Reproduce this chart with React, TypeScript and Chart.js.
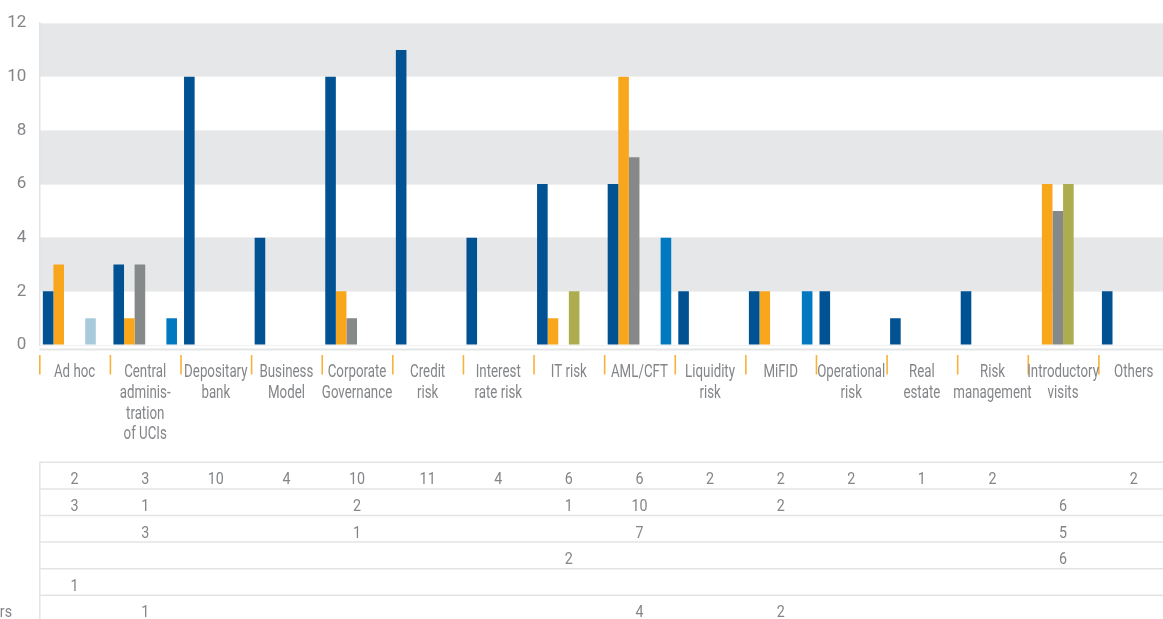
import React, { useEffect, useRef } from "react";
import { Chart, registerables } from "chart.js";

Chart.register(...registerables);

// ---- data ----
const categories: string[][] = [
  ["Ad hoc"],
  ["Central", "adminis-", "tration", "of UCIs"],
  ["Depositary", "bank"],
  ["Business", "Model"],
  ["Corporate", "Governance"],
  ["Credit", "risk"],
  ["Interest", "rate risk"],
  ["IT risk"],
  ["AML/CFT"],
  ["Liquidity", "risk"],
  ["MiFID"],
  ["Operational", "risk"],
  ["Real", "estate"],
  ["Risk", "management"],
  ["Introductory", "visits"],
  ["Others"],
];

const seriesNames = [
  "Banks",
  "Investment firms",
  "UCIs",
  "PFS",
  "Payment institutions",
  "Investment fund managers",
];

const banks = [2, 3, 10, 4, 10, 11, 4, 6, 6, 2, 2, 2, 1, 2, null, 2];
const investmentFirms = [3, 1, null, null, 2, null, null, 1, 10, null, 2, null, null, null, 6, null];
const ucis = [null, 3, null, null, 1, null, null, null, 7, null, null, null, null, null, 5, null];
const pfs = [null, null, null, null, null, null, null, 2, null, null, null, null, null, null, 6, null];
const paymentInstitutions = [1, null, null, null, null, null, null, null, null, null, null, null, null, null, null, null];
const fundManagers = [null, 1, null, null, null, null, null, null, 4, null, 2, null, null, null, null, null];

const seriesValues = [banks, investmentFirms, ucis, pfs, paymentInstitutions, fundManagers];
const seriesColors = ["#005293", "#F8A61C", "#868989", "#ADAC4E", "#A8CBDB", "#0079C1"];

const yTicks = [0, 2, 4, 6, 8, 10, 12];

// ---- layout ----
const HIDDEN_LEFT = 170;
const VIEW_W = 1163;
const VIEW_H = 619;
const CANVAS_W = HIDDEN_LEFT + VIEW_W + 17;
const FONT = '"Roboto", "DejaVu Sans Condensed", sans-serif';
const TEXT = "#838588";

function drawSqueezed(ctx: CanvasRenderingContext2D, text: string, cx: number, by: number, sx: number) {
  ctx.save();
  ctx.translate(cx, by);
  ctx.scale(sx, 1);
  ctx.fillText(text, 0, 0);
  ctx.restore();
}

const decorPlugin = {
  id: "decor",
  beforeDraw(chart: any) {
    const { ctx, chartArea, scales } = chart;
    const y = scales.y;
    ctx.save();
    ctx.fillStyle = "#ffffff";
    ctx.fillRect(0, 0, chart.width, chart.height);
    ctx.fillStyle = "#E6E7E8";
    for (let k = 0; k < yTicks.length - 1; k++) {
      if (k % 2 === 1) {
        const top = y.getPixelForValue(yTicks[k + 1]);
        const bot = y.getPixelForValue(yTicks[k]);
        ctx.fillRect(chartArea.left, top, chartArea.right - chartArea.left, bot - top);
      }
    }
    ctx.restore();
  },
  afterDraw(chart: any) {
    const { ctx, chartArea, scales } = chart;
    const x = scales.x;
    const n = categories.length;
    const cw = (chartArea.right - chartArea.left) / n;
    ctx.save();
    // axis line
    ctx.strokeStyle = "#E4E5E6";
    ctx.lineWidth = 2;
    ctx.beginPath();
    ctx.moveTo(chartArea.left, chartArea.bottom + 4.5);
    ctx.lineTo(chart.width, chartArea.bottom + 4.5);
    ctx.stroke();
    // orange category separators
    ctx.strokeStyle = "#F9B13A";
    ctx.lineWidth = 1.6;
    for (let k = 0; k <= n; k++) {
      const px = chartArea.left + k * cw + 0.5;
      ctx.beginPath();
      ctx.moveTo(px, chartArea.bottom + 10);
      ctx.lineTo(px, chartArea.bottom + 29.5);
      ctx.stroke();
    }
    // category labels
    ctx.fillStyle = TEXT;
    ctx.font = `400 17.5px ${FONT}`;
    ctx.textAlign = "center";
    ctx.textBaseline = "alphabetic";
    categories.forEach((lines, j) => {
      const cx = x.getPixelForValue(j);
      lines.forEach((line, k) => {
        drawSqueezed(ctx, line, cx, chartArea.bottom + 32 + k * 20.8, 0.76);
      });
    });

    // data table
    const tableTop = chartArea.bottom + 117.3;
    const rowH = 26.6;
    ctx.strokeStyle = "#E3E4E5";
    ctx.lineWidth = 1.5;
    for (let r = 0; r <= seriesValues.length; r++) {
      const ly = tableTop + r * rowH;
      ctx.beginPath();
      ctx.moveTo(chartArea.left, ly);
      ctx.lineTo(chart.width, ly);
      ctx.stroke();
    }
    ctx.beginPath();
    ctx.moveTo(chartArea.left + 0.5, tableTop);
    ctx.lineTo(chartArea.left + 0.5, chart.height);
    ctx.stroke();

    ctx.font = `400 17px ${FONT}`;
    ctx.textAlign = "center";
    seriesValues.forEach((vals, r) => {
      const by = tableTop + r * rowH + 22;
      vals.forEach((v, j) => {
        if (v !== null && v !== undefined) {
          drawSqueezed(ctx, String(v), x.getPixelForValue(j), by, 0.84);
        }
      });
    });
    // legend column (mostly cut off on the left)
    ctx.textAlign = "left";
    const longest = seriesNames[seriesNames.length - 1];
    const startX = HIDDEN_LEFT + 12 - ctx.measureText(longest).width * 0.84;
    seriesNames.forEach((name, r) => {
      const by = tableTop + r * rowH + 22;
      drawSqueezed(ctx, name, startX, by, 0.84);
    });
    ctx.restore();
  },
};

export default function App() {
  const ref = useRef<HTMLCanvasElement | null>(null);

  useEffect(() => {
    if (!ref.current) return;
    const chart = new Chart(ref.current, {
      type: "bar",
      data: {
        labels: categories,
        datasets: seriesNames.map((name, i) => ({
          label: name,
          data: seriesValues[i],
          backgroundColor: seriesColors[i],
          borderWidth: 0,
          categoryPercentage: 0.9,
          barPercentage: 1.0,
        })),
      },
      options: {
        responsive: false,
        devicePixelRatio: 1,
        animation: false,
        layout: { padding: { left: 0, right: 11, top: 21, bottom: 175 } },
        plugins: {
          legend: { display: false },
          tooltip: { enabled: false },
        },
        scales: {
          x: {
            grid: { display: false, drawTicks: false },
            border: { display: false },
            ticks: { display: false },
            afterFit: (scale: any) => {
              scale.height = 99;
            },
          },
          y: {
            min: 0,
            max: 12,
            grid: { color: "#F0F0F1", lineWidth: 1, drawTicks: false },
            border: { display: true, color: "#E2E3E4", width: 1.5 },
            ticks: {
              stepSize: 2,
              color: TEXT,
              font: { family: FONT, size: 17, weight: "400" },
              padding: 13,
            },
            afterFit: (scale: any) => {
              scale.width = HIDDEN_LEFT + 39.3;
            },
          },
        },
      },
      plugins: [decorPlugin],
    });
    return () => chart.destroy();
  }, []);

  return (
    <div
      style={{
        position: "fixed",
        left: 0,
        top: 0,
        width: VIEW_W,
        height: VIEW_H,
        overflow: "hidden",
        background: "#fff",
      }}
    >
      <canvas
        ref={ref}
        width={CANVAS_W}
        height={VIEW_H}
        style={{ position: "absolute", left: -HIDDEN_LEFT, top: 0 }}
      />
    </div>
  );
}
